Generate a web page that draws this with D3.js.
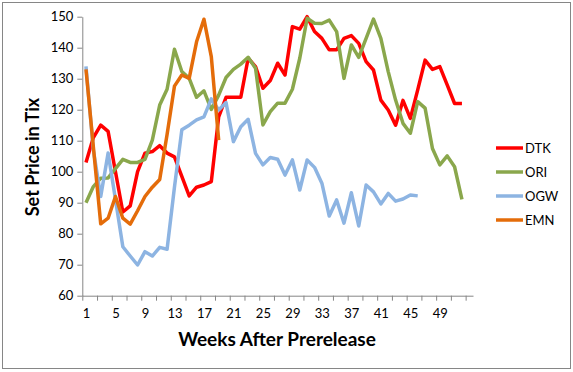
<!DOCTYPE html>
<meta charset="utf-8">
<script src="https://d3js.org/d3.v7.min.js"></script>
<style>
  body { margin: 0; background: #fff; }
  text { font-family: Lato, "Open Sans", sans-serif; }
</style>
<div id="my_dataviz"></div>
<script>

  // weekly set prices (one value per week, starting at week 1)
  const seriesNames = ["DTK", "ORI", "OGW", "EMN"];
  const seriesColors = ["#ff0000", "#8aa74c", "#8db4e2", "#e46c0a"];

  const dtk = [103,111,115,113,100,87,89,100,106,106.5,108.4,106,104.8,98.5,92.2,95,95.7,96.8,117.7,124,
    124,124,136.6,133.9,126.9,129.4,135,131.2,146.8,146,150,145.2,143,139.3,139.3,143,143.9,141.4,135.5,132.8,
    123.1,119.9,115,123,117.2,126.4,136,133,133.9,128,122,122];
  const ori = [90,95.2,97.9,98,101,104,103,103,104,110.2,121.5,126.6,139.5,132.3,130.1,124,126.1,120.1,124.7,130.4,
    133,134.7,136.9,133.4,115.1,119.4,122.1,122.1,126.6,136.6,149.5,147.9,147.8,148.9,145.2,130.1,140.9,136.9,143,149.2,
    143,132.3,123.1,115.6,112.4,122.6,120.5,107.5,102.2,105.1,101.6,91.1];
  const ogw = [134,107,92,106,91,75.8,72.8,69.9,74.2,72.8,75.6,75,95,113.5,115,116.7,117.7,123.5,119.9,122.3,
    109.7,114.5,116.9,105.9,102.2,104.6,104,98.9,103.8,94.1,103.8,101.4,96.3,85.7,90.9,83.4,93.2,82.5,95.7,93.5,
    89.6,93,90.5,91.2,92.5,92.2];
  const emn = [133,108,83.2,85,92,85,83.1,87.4,92,95,97.5,112,127.6,131.2,130.1,141.9,149.2,137.1,110.2];

  const weekLabels = [1,5,9,13,17,21,25,29,33,37,41,45,49];
  const yTicks = [60,70,80,90,100,110,120,130,140,150];
  const numWeeks = 53;

  const W = 573, H = 372;
  const margin = {top: 16.7, right: 100, bottom: 76.3, left: 82.3};
  const width = 473 - margin.left,
        height = 295.7 - margin.top;

  const root = d3.select("#my_dataviz")
    .append("svg")
      .attr("width", W)
      .attr("height", H);

  // chart border
  root.append("rect")
    .attr("x", 2.5).attr("y", 2.5)
    .attr("width", W - 5).attr("height", H - 6)
    .attr("fill", "none")
    .attr("stroke", "#868686")
    .attr("stroke-width", 1);

  const svg = root.append("g")
    .attr("transform", `translate(${margin.left},${margin.top})`);

  // category style x scale: week w sits in the middle of its slot
  const x = d3.scaleLinear()
    .domain([0.5, numWeeks + 0.5])
    .range([0, width]);

  const y = d3.scaleLinear()
    .domain([60, 150])
    .range([height, 0]);

  // x axis: tick marks every 2 weeks on slot boundaries
  svg.append("g")
    .attr("transform", `translate(0, ${height})`)
    .call(d3.axisBottom(x)
      .tickValues(d3.range(0.5, numWeeks + 0.5, 2))
      .tickSize(5)
      .tickSizeOuter(0)
      .tickFormat(""));

  // x labels
  svg.append("g")
    .attr("transform", `translate(0, ${height})`)
    .call(d3.axisBottom(x).tickValues(weekLabels).tickSize(0).tickPadding(13))
    .call(g => g.select(".domain").remove())
    .selectAll("text")
      .attr("font-size", 13)
      .attr("fill", "#000");

  // y axis
  const yAxis = svg.append("g")
    .call(d3.axisLeft(y).tickValues(yTicks).tickSize(5).tickSizeOuter(0).tickPadding(4));
  yAxis.selectAll("text")
    .attr("font-size", 13)
    .attr("fill", "#000");

  svg.selectAll(".domain, .tick line")
    .attr("stroke", "#868686");

  // lines, drawn in series order (last one on top)
  const line = d3.line()
    .x((d, i) => x(i + 1))
    .y(d => y(d));

  const allSeries = [dtk, ori, ogw, emn];
  allSeries.forEach((values, k) => {
    svg.append("path")
      .datum(values)
      .attr("fill", "none")
      .attr("stroke", seriesColors[k])
      .attr("stroke-width", 3.5)
      .attr("stroke-linejoin", "round")
      .attr("d", line);
  });

  // axis titles
  root.append("text")
    .attr("x", 277)
    .attr("y", 346)
    .attr("text-anchor", "middle")
    .attr("font-size", 19)
    .attr("font-weight", "bold")
    .text("Weeks After Prerelease");

  root.append("text")
    .attr("transform", "translate(39,157) rotate(-90)")
    .attr("text-anchor", "middle")
    .attr("font-size", 18)
    .attr("font-weight", "bold")
    .text("Set Price in Tix");

  // legend
  const legend = root.append("g")
    .attr("transform", "translate(496,148)");
  seriesNames.forEach((name, i) => {
    const g = legend.append("g").attr("transform", `translate(0, ${i * 24})`);
    g.append("line")
      .attr("x1", 0).attr("x2", 27)
      .attr("stroke", seriesColors[i])
      .attr("stroke-width", 3.5);
    g.append("text")
      .attr("x", 29)
      .attr("y", 4.5)
      .attr("font-size", 13)
      .text(name);
  });

</script>
